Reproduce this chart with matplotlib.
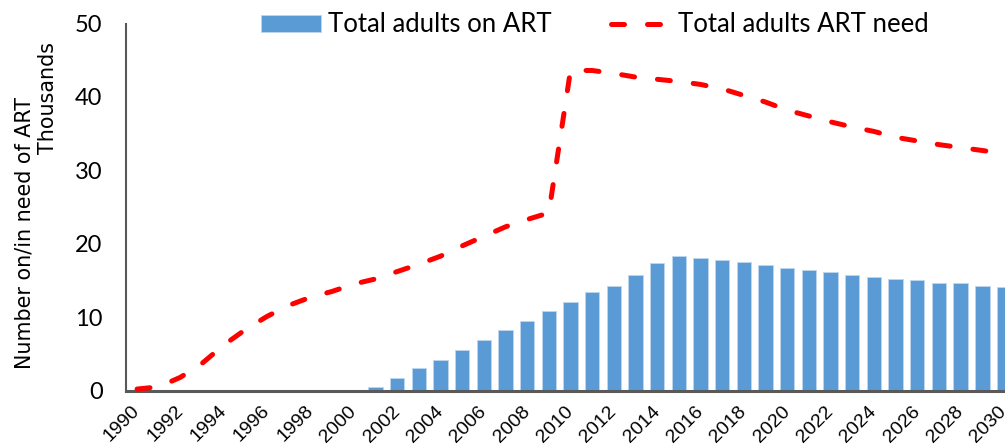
import numpy as np
import matplotlib
matplotlib.use('Agg')
import matplotlib.pyplot as plt

years = list(range(1990, 2031))
tick_labels = [str(y) if y % 2 == 0 else '' for y in years]

# Thousands of adults
on_art = [0, 0, 0, 0, 0, 0, 0, 0, 0, 0, 0,
          0.5, 1.7, 3.0, 4.2, 5.5, 6.9, 8.2, 9.5, 10.9, 12.1,
          13.4, 14.3, 15.7, 17.4, 18.3, 18.0, 17.8, 17.5, 17.1, 16.7,
          16.4, 16.1, 15.8, 15.4, 15.2, 15.0, 14.7, 14.6, 14.3, 14.1]
art_need = [0.2, 0.5, 1.8, 3.7, 6.2, 8.3, 10.1, 11.6, 12.7, 13.5, 14.5,
            15.2, 16.2, 17.2, 18.3, 19.7, 21.0, 22.3, 23.3, 24.2, 43.6,
            43.6, 43.2, 42.7, 42.4, 42.1, 41.7, 41.1, 40.2, 39.3, 38.2,
            37.4, 36.6, 35.9, 35.3, 34.5, 34.0, 33.5, 33.1, 32.7, 32.3]

narrow = ['Lato', 'DejaVu Sans']

fig = plt.figure(figsize=(10.05, 4.46), dpi=100)
ax = fig.add_axes([0.1256, 0.1244, 0.8841, 0.8229])

x = np.arange(len(years))
bars = ax.bar(x, on_art, width=0.67, color='#5B9BD5', edgecolor='#BDD7EE',
              linewidth=0.6, label='Total adults on ART', zorder=2)
line, = ax.plot(x, art_need, color='#FF0000', linewidth=3.6, dashes=(2.6, 4.6),
                dash_capstyle='round', solid_capstyle='round',
                label='Total adults ART need', zorder=3, clip_on=False)

ax.set_xlim(-0.5, 40.5)
ax.set_ylim(0, 50)
ax.set_yticks(range(0, 51, 10))
ax.set_yticklabels([str(v) for v in range(0, 51, 10)], family=narrow, fontsize=17)
ax.set_xticks(x)
ax.set_xticklabels(tick_labels, rotation=45, ha='right', va='center',
                   rotation_mode='anchor', family='Liberation Sans', fontsize=14)
ax.tick_params(axis='both', length=0)
ax.tick_params(axis='y', pad=17)
ax.tick_params(axis='x', pad=13)

for side in ['top', 'right']:
    ax.spines[side].set_visible(False)
ax.spines['left'].set_color('#595959')
ax.spines['left'].set_linewidth(1.5)
ax.spines['bottom'].set_color('#595959')
ax.spines['bottom'].set_linewidth(2.2)

fig.text(0.024, 0.478, 'Number on/in need of ART', rotation=90, ha='center',
         va='center', family='DejaVu Sans', fontsize=14.9)
fig.text(0.048, 0.78, 'Thousands', rotation=90, ha='center', va='center',
         family='DejaVu Sans', fontsize=14.9)

fig.legend([bars, line], ['Total adults on ART', 'Total adults ART need'],
           loc='center', bbox_to_anchor=(0.592, 0.944), ncol=2, frameon=False,
           prop={'family': narrow, 'size': 18.5}, handlelength=2.3,
           handleheight=0.6, handletextpad=0.3, columnspacing=2.3)

fig.savefig('out.png', dpi=100)
